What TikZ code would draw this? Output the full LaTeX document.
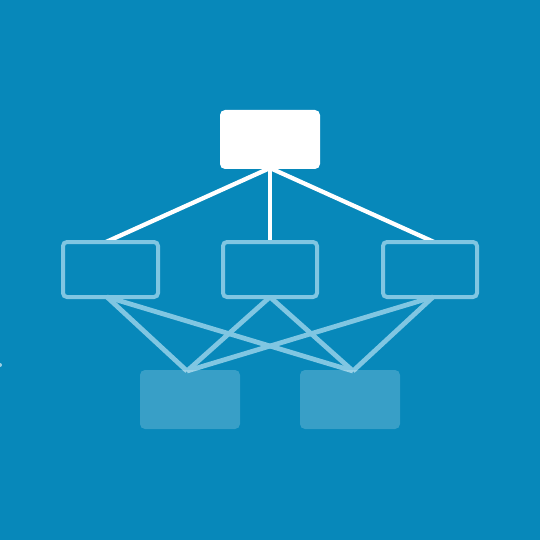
\documentclass[tikz,border=0pt]{standalone}
\begin{document}
\begin{tikzpicture}[x=1pt,y=-1pt,
  bg/.style={fill=bgblue},
  topbox/.style={fill=white,rounded corners=5pt},
  midbox/.style={draw=lightline,line width=4pt,rounded corners=4pt},
  botbox/.style={fill=white,fill opacity=0.2,rounded corners=5pt},
  wline/.style={draw=white,line width=4.3pt},
  lline/.style={draw=lightline,line width=4.8pt}]
\definecolor{bgblue}{RGB}{7,136,186}
\definecolor{lightline}{RGB}{128,198,226}
\path[bg] (0,0) rectangle (540,540);
\useasboundingbox (0,0) rectangle (540,540);
% coordinates
\coordinate (tb) at (270,168);
\coordinate (lt) at (106,242);
\coordinate (mt) at (270,242);
\coordinate (rt) at (434,242);
\coordinate (lb) at (107,297);
\coordinate (mb) at (270,297);
\coordinate (rb) at (433,297);
\coordinate (bl) at (187,371);
\coordinate (br) at (353,371);
% lines top
\draw[wline] (tb) -- (lt);
\draw[wline] (tb) -- (mt);
\draw[wline] (tb) -- (rt);
% lines bottom
\draw[lline] (lb) -- (bl);
\draw[lline] (lb) -- (br);
\draw[lline] (mb) -- (bl);
\draw[lline] (mb) -- (br);
\draw[lline] (rb) -- (bl);
\draw[lline] (rb) -- (br);
% boxes
\path[topbox] (220,110) rectangle (320,169) node[midway] (top) {};
\path[midbox] (63,242) rectangle (158,297) node[midway] (ml) {};
\path[midbox] (223,242) rectangle (317,297) node[midway] (mm) {};
\path[midbox] (383,242) rectangle (477,297) node[midway] (mr) {};
\path[botbox] (140,370) rectangle (240,429) node[midway] (bbl) {};
\path[botbox] (300,370) rectangle (400,429) node[midway] (bbr) {};
% small dot at left edge
\fill[white,opacity=0.6] (0,365) circle (2);
\end{tikzpicture}
\end{document}
